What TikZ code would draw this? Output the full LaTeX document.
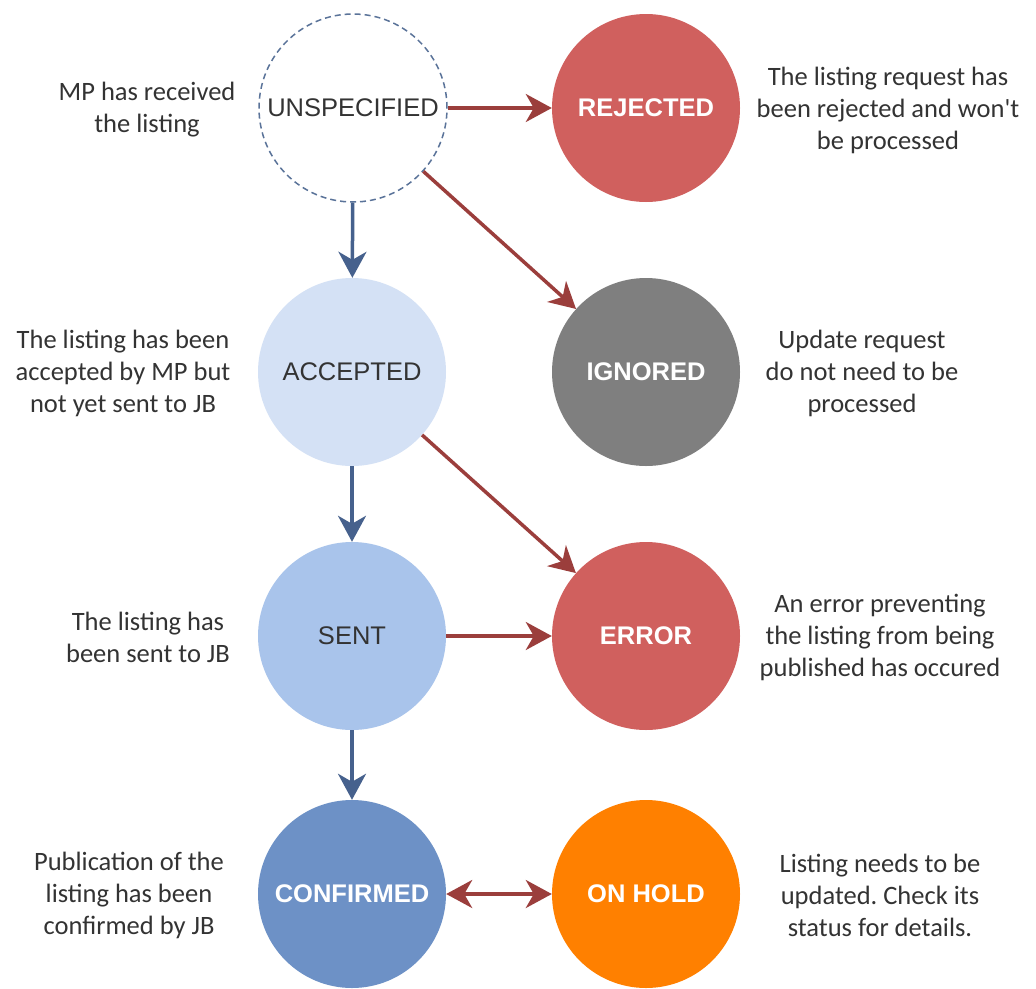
\documentclass[tikz,border=0pt]{standalone}
\usepackage{fontspec}
\setmainfont{Carlito}[Ligatures=TeXOff]
\newfontfamily\arialf{Liberation Sans}
\usetikzlibrary{arrows.meta}
\definecolor{redfill}{HTML}{D0605E}
\definecolor{redarrow}{HTML}{9B3E3C}
\definecolor{grayfill}{HTML}{7F7F7F}
\definecolor{accfill}{HTML}{D4E1F5}
\definecolor{sentfill}{HTML}{A9C4EB}
\definecolor{conffill}{HTML}{6D91C6}
\definecolor{holdfill}{HTML}{FF8000}
\definecolor{bluearrow}{HTML}{46618D}
\definecolor{dashcol}{HTML}{5A7399}
\definecolor{txt}{HTML}{333333}
\tikzset{
  state/.style={circle, minimum size=188pt, inner sep=0pt, draw=none,
    font=\arialf\fontsize{25.5}{28}\selectfont},
  darkstate/.style={state, text=txt},
  lightstate/.style={state, text=white, font=\arialf\bfseries\fontsize{25.5}{28}\selectfont},
  note/.style={align=center, text=txt, font=\frenchspacing\fontsize{26.5}{32}\selectfont, inner sep=0pt},
  redarr/.style={draw=redarrow, line width=3.5pt, -{Stealth[length=26pt,width=28pt,inset=8pt]}},
  bluearr/.style={draw=bluearrow, line width=3.5pt, -{Stealth[length=26pt,width=28pt,inset=8pt]}},
  biarr/.style={draw=redarrow, line width=3.5pt, {Stealth[length=26pt,width=28pt,inset=8pt]}-{Stealth[length=26pt,width=28pt,inset=8pt]}}
}
\begin{document}
\begin{tikzpicture}[x=1pt,y=-1pt]
\useasboundingbox[fill=white] (0,0) rectangle (1036,988);
% states
\node[darkstate, draw=dashcol, line width=1.5pt, dash pattern=on 6pt off 4pt, fill=white] (un) at (353,108) {UNSPECIFIED};
\node[lightstate, fill=redfill] (rej) at (646,108) {REJECTED};
\node[darkstate, fill=accfill] (acc) at (352,372) {ACCEPTED};
\node[lightstate, fill=grayfill] (ign) at (646,372) {IGNORED};
\node[darkstate, fill=sentfill] (sent) at (352,636) {SENT};
\node[lightstate, fill=redfill] (err) at (646,636) {ERROR};
\node[lightstate, fill=conffill] (conf) at (352,894) {CONFIRMED};
\node[lightstate, fill=holdfill] (hold) at (646,894) {ON HOLD};
% connectors
\draw[redarr] (un) -- (rej);
\draw[redarr] (un) -- (ign);
\draw[bluearr] (un) -- (acc);
\draw[bluearr] (acc) -- (sent);
\draw[redarr] (acc) -- (err);
\draw[redarr] (sent) -- (err);
\draw[bluearr] (sent) -- (conf);
\draw[biarr] (conf) -- (hold);
% notes
\node[note] (nun) at (147,110) {MP has received\\the listing};
\node[note] (nacc) at (123,373) {The listing has been\\accepted by MP but\\not yet sent to JB};
\node[note] (nsent) at (148,637) {The listing has\\been sent to JB};
\node[note] (nconf) at (129,895) {Publication of the\\listing has been\\confirmed by JB};
\node[note] (nrej) at (888,110) {The listing request has\\been rejected and won't\\be processed};
\node[note] (nign) at (862,373) {Update request\\do not need to be\\processed};
\node[note] (nerr) at (880,637) {An error preventing\\the listing from being\\published has occured};
\node[note] (nhold) at (880,895) {Listing needs to be\\updated. Check its\\status for details.};
\end{tikzpicture}
\end{document}
